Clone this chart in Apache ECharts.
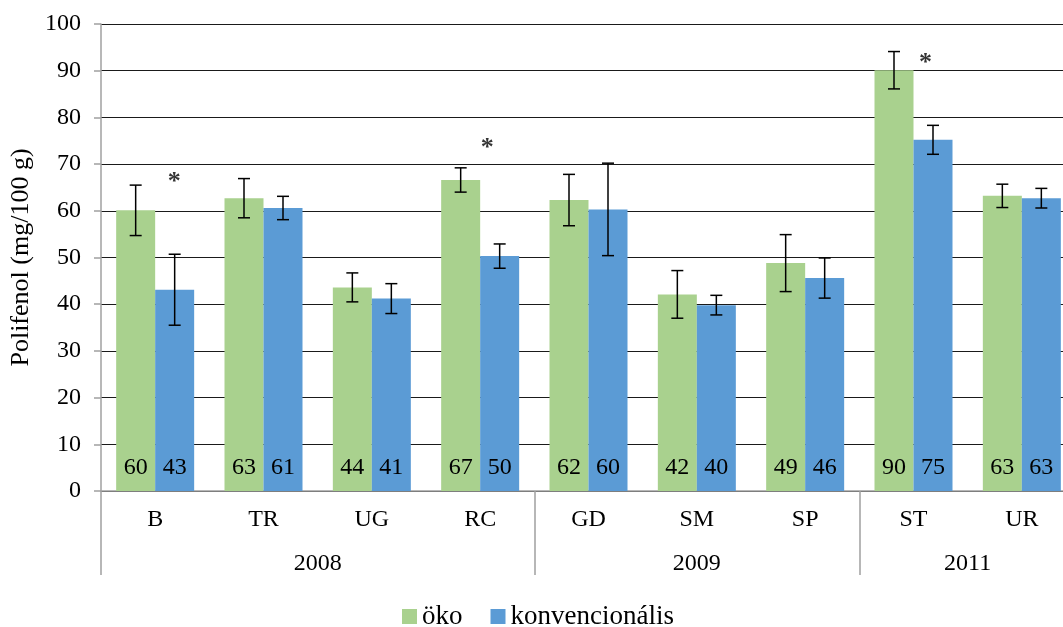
<!DOCTYPE html>
<html>
<head>
<meta charset="utf-8">
<script src="https://cdn.jsdelivr.net/npm/echarts@6/dist/echarts.min.js"></script>
<style>
  html, body { margin: 0; padding: 0; background: #fff; }
  #chart { width: 1063px; height: 627px; }
</style>
</head>
<body>
<div id="chart"></div>
<script>
// data
const categories = ['B', 'TR', 'UG', 'RC', 'GD', 'SM', 'SP', 'ST', 'UR']
const yearGroups = [
    { year: '2008', from: 0, to: 4 },
    { year: '2009', from: 4, to: 7 },
    { year: '2011', from: 7, to: 9 },
]
const okoValues = [60.1, 62.7, 43.6, 66.6, 62.3, 42.1, 48.8, 90.1, 63.2]
const okoErr = [5.4, 4.2, 3.1, 2.6, 5.5, 5.1, 6.1, 4.0, 2.5]
const konvValues = [43.1, 60.6, 41.2, 50.3, 60.3, 39.8, 45.6, 75.2, 62.7]
const konvErr = [7.6, 2.5, 3.2, 2.6, 9.9, 2.1, 4.3, 3.1, 2.1]
// significance marks: category, height, horizontal nudge
const starMarks = [
    { cat: 'B', value: 66, dx: 19 },
    { cat: 'RC', value: 73.4, dx: 7 },
    { cat: 'ST', value: 91.6, dx: 12 },
]

const font = 'Liberation Serif'
const barW = 39
const green = '#a9d18e'
const blue = '#5b9bd5'
const axisGray = '#a0a0a0'

const chart = echarts.init(document.getElementById('chart'))

function errSeries(vals, errs, shift) {
    return {
        type: 'custom',
        z: 5,
        silent: true,
        data: vals.map((v, i) => [i, v, errs[i]]),
        renderItem(params, api) {
            let i = api.value(0), v = api.value(1), e = api.value(2)
            let top = api.coord([i, v + e])
            let bot = api.coord([i, v - e])
            let x = top[0] + shift
            let cap = 6
            let style = { stroke: '#000', lineWidth: 1.5 }
            return {
                type: 'group',
                children: [
                    { type: 'line', shape: { x1: x, y1: top[1], x2: x, y2: bot[1] }, style },
                    { type: 'line', shape: { x1: x - cap, y1: top[1], x2: x + cap, y2: top[1] }, style },
                    { type: 'line', shape: { x1: x - cap, y1: bot[1], x2: x + cap, y2: bot[1] }, style },
                ]
            }
        }
    }
}

const valueLabel = {
    show: true,
    position: 'insideBottom',
    distance: 11,
    fontFamily: font,
    fontSize: 24,
    color: '#000',
    formatter: p => p.value.toFixed(0)
}

chart.setOption({
    animation: false,
    textStyle: { fontFamily: font },
    grid: { left: 101, top: 24, width: 975, height: 467, outerBoundsMode: 'none', containLabel: false },
    legend: {
        left: 397,
        top: 598,
        icon: 'rect',
        itemWidth: 15,
        itemHeight: 15,
        itemGap: 28,
        textStyle: { fontFamily: font, fontSize: 27, color: '#000' },
        data: ['öko', 'konvencionális']
    },
    xAxis: [
        {
            type: 'category',
            data: categories,
            axisLine: { lineStyle: { color: axisGray, width: 1.5 } },
            axisTick: { show: false },
            axisLabel: { fontFamily: font, fontSize: 24, color: '#000', margin: 17 },
        },
        {
            type: 'value',
            min: 0,
            max: 9,
            position: 'bottom',
            axisLine: { show: false },
            splitLine: { show: false },
            axisTick: {
                show: true,
                length: 84,
                customValues: yearGroups.map(g => g.from).concat([9]),
                lineStyle: { color: axisGray, width: 1.5 }
            },
            axisLabel: {
                fontFamily: font,
                fontSize: 24,
                color: '#000',
                margin: 61,
                customValues: yearGroups.map(g => (g.from + g.to) / 2),
                formatter: v => {
                    let g = yearGroups.find(g => (g.from + g.to) / 2 === v)
                    return g ? g.year : ''
                }
            }
        }
    ],
    yAxis: {
        type: 'value',
        min: 0,
        max: 100,
        interval: 10,
        name: 'Polifenol (mg/100 g)',
        nameLocation: 'middle',
        nameGap: 66,
        nameTextStyle: { fontFamily: font, fontSize: 26, color: '#000' },
        axisLine: { show: true, lineStyle: { color: axisGray, width: 1.5 } },
        axisTick: { show: true, length: 7, lineStyle: { color: axisGray, width: 1.5 } },
        axisLabel: { fontFamily: font, fontSize: 24, color: '#000', margin: 20 },
        splitLine: { lineStyle: { color: '#1a1a1a', width: 1.2 } }
    },
    series: [
        {
            name: 'öko',
            type: 'bar',
            barWidth: barW,
            barGap: 0,
            itemStyle: { color: green },
            label: valueLabel,
            data: okoValues
        },
        {
            name: 'konvencionális',
            type: 'bar',
            barWidth: barW,
            barGap: 0,
            itemStyle: { color: blue },
            label: valueLabel,
            data: konvValues
        },
        errSeries(okoValues, okoErr, -barW / 2),
        errSeries(konvValues, konvErr, barW / 2),
        {
            type: 'scatter',
            symbolSize: 0,
            silent: true,
            z: 6,
            data: starMarks.map(s => ({
                value: [categories.indexOf(s.cat), s.value],
                label: { offset: [s.dx, 0] }
            })),
            label: {
                show: true,
                position: 'inside',
                formatter: '*',
                fontFamily: font,
                fontSize: 26,
                fontWeight: 'bold',
                color: '#000'
            }
        }
    ]
})
</script>
</body>
</html>
